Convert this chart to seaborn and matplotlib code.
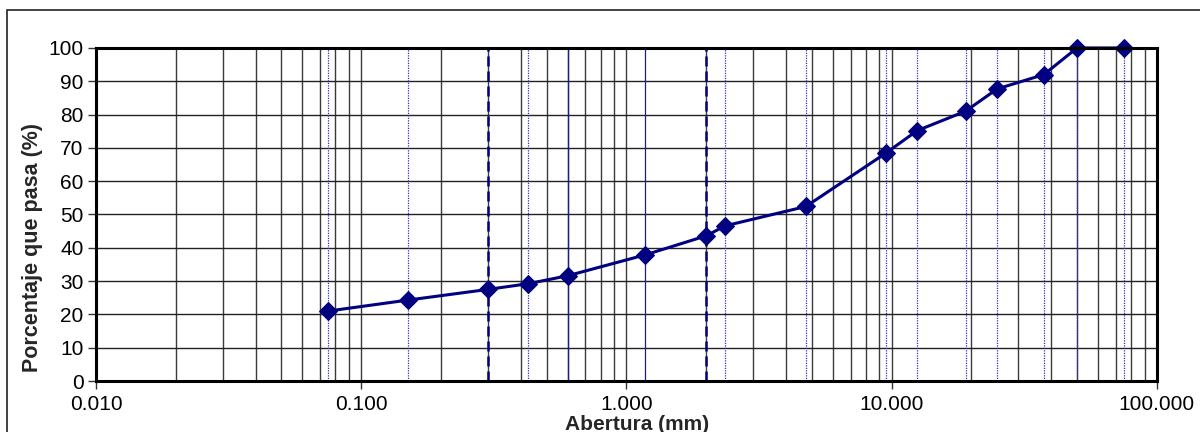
import matplotlib
matplotlib.use("Agg")
from matplotlib import pyplot as plt
from matplotlib.patches import Rectangle
from matplotlib.ticker import FixedLocator, FuncFormatter
import pandas as pd
import seaborn as sns

# sieve openings (mm) and percent passing
abertura = [0.075, 0.15, 0.30, 0.425, 0.60, 1.18, 2.00, 2.36, 4.75,
            9.5, 12.5, 19.0, 25.0, 37.5, 50.0, 75.0]
pasa = [21.0, 24.3, 27.5, 29.2, 31.6, 37.9, 43.6, 46.6, 52.4,
        68.4, 75.2, 81.0, 87.7, 92.0, 100.0, 100.0]

# reference sieves drawn as vertical guide lines
tamices_dash = [0.30, 2.00]
tamices_solid = [0.60, 1.18]

df = pd.DataFrame({"Abertura": abertura, "Pasa": pasa})

sns.set_style("white")
plt.rcParams["font.family"] = ["Liberation Sans", "DejaVu Sans"]

fig = plt.figure(figsize=(12, 4.32), dpi=100)
ax = fig.add_axes([0.08, 0.118, 0.884, 0.771])

# figure frame
fig.patches.append(Rectangle((7 / 1200, -0.1), 1.2, 1.1 - 10 / 432,
                             transform=fig.transFigure, fill=False,
                             edgecolor="#222222", linewidth=1.2, zorder=0))

ax.set_xscale("log")
ax.set_xlim(0.01, 100)
ax.set_ylim(0, 100)

# grid
for dec in [0.01, 0.1, 1, 10]:
    for k in range(1, 10):
        x = dec * k
        if x > 0.01:
            ax.axvline(x, color="#3a3a3a", linewidth=1.0, zorder=1)
for y in range(10, 100, 10):
    ax.axhline(y, color="#222222", linewidth=1.0, zorder=1)

# sieve lines
for x in abertura:
    if x in tamices_dash:
        ax.axvline(x, color="#000080", linewidth=1.8, linestyle=(0, (4, 2)), zorder=2)
    elif x in tamices_solid:
        ax.axvline(x, color="#1a1aa0", linewidth=0.9, zorder=2)
    else:
        ax.axvline(x, color="#3030c0", linewidth=0.9, linestyle=(0, (1, 1)), zorder=2)

sns.lineplot(data=df, x="Abertura", y="Pasa", ax=ax, color="#000080",
             linewidth=2.2, marker="D", markersize=9, markeredgecolor="#000080",
             zorder=5, clip_on=False)

ax.xaxis.set_major_locator(FixedLocator([0.01, 0.1, 1, 10, 100]))
ax.xaxis.set_minor_locator(FixedLocator([]))
ax.xaxis.set_major_formatter(FuncFormatter(lambda v, p: "%.3f" % v))
ax.set_yticks(range(0, 101, 10))

ax.tick_params(axis="both", which="major", direction="out", length=6,
               width=1, colors="#333333", labelsize=15, labelcolor="black",
               bottom=True, left=True)
ax.tick_params(axis="x", pad=4)
ax.tick_params(axis="y", pad=3)

for s in ax.spines.values():
    s.set_linewidth(2.2)
    s.set_color("black")
    s.set_zorder(6)

ax.set_xlabel("Abertura (mm)", fontsize=15, fontweight="bold")
ax.xaxis.set_label_coords(0.51, -0.103)
ax.set_ylabel("Porcentaje que pasa (%)", fontsize=15.5, fontweight="bold")
ax.yaxis.set_label_coords(-0.05, 0.40)

plt.savefig("out.png", dpi=100)
